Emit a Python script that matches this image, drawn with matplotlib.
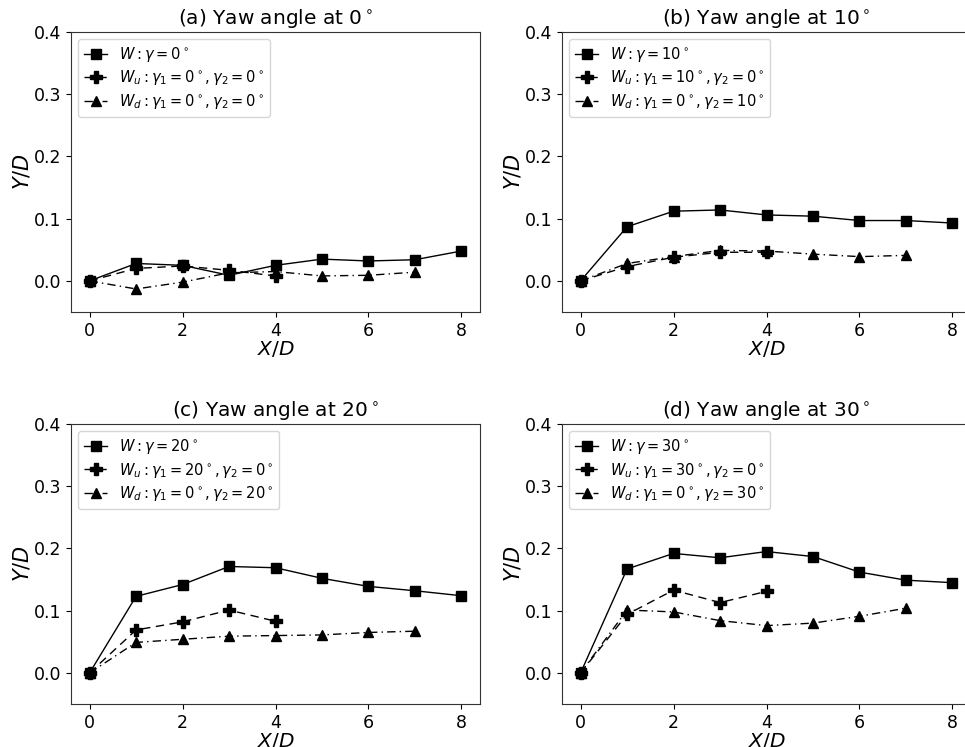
import matplotlib
matplotlib.use("Agg")
import matplotlib.pyplot as plt

x_all = [0, 1, 2, 3, 4, 5, 6, 7, 8]
x_u = [0, 1, 2, 3, 4]
x_d = [0, 1, 2, 3, 4, 5, 6, 7]

angles = [0, 10, 20, 30]
panel_letters = ["a", "b", "c", "d"]

W_0 = [0.0, 0.028, 0.025, 0.009, 0.025, 0.035, 0.032, 0.034, 0.048]
Wu_0 = [0.0, 0.020, 0.024, 0.017, 0.008]
Wd_0 = [0.0, -0.013, -0.002, 0.013, 0.015, 0.008, 0.009, 0.014]

W_10 = [0.0, 0.087, 0.112, 0.114, 0.106, 0.104, 0.097, 0.097, 0.093]
Wu_10 = [0.0, 0.023, 0.038, 0.046, 0.046]
Wd_10 = [0.0, 0.028, 0.039, 0.049, 0.048, 0.043, 0.039, 0.041]

W_20 = [0.0, 0.123, 0.142, 0.171, 0.169, 0.152, 0.139, 0.132, 0.124]
Wu_20 = [0.0, 0.069, 0.082, 0.101, 0.083]
Wd_20 = [0.0, 0.049, 0.054, 0.059, 0.060, 0.061, 0.065, 0.067]

W_30 = [0.0, 0.167, 0.192, 0.185, 0.195, 0.187, 0.162, 0.149, 0.145]
Wu_30 = [0.0, 0.094, 0.133, 0.113, 0.131]
Wd_30 = [0.0, 0.101, 0.098, 0.084, 0.076, 0.080, 0.091, 0.104]

W_series = [W_0, W_10, W_20, W_30]
Wu_series = [Wu_0, Wu_10, Wu_20, Wu_30]
Wd_series = [Wd_0, Wd_10, Wd_20, Wd_30]

fig = plt.figure(figsize=(9.65, 7.47), dpi=100)
W_px, H_px = 965, 747
positions = [(71, 32), (562, 32), (71, 424), (562, 424)]
aw, ah = 409, 280

for i in range(4):
    lx, ty = positions[i]
    ax = fig.add_axes([lx / W_px, 1 - (ty + ah) / H_px, aw / W_px, ah / H_px])
    g = angles[i]
    ax.plot(x_all, W_series[i], color="black", linestyle="-", marker="s",
            markersize=7, linewidth=1.0, label=r"$W: \gamma = %d^\circ$" % g)
    ax.plot(x_u, Wu_series[i], color="black", linestyle="--", marker="P",
            markersize=8, linewidth=1.0, dashes=(6, 4),
            label=r"$W_u: \gamma_1 = %d^\circ, \gamma_2 = 0^\circ$" % g)
    ax.plot(x_d, Wd_series[i], color="black", linestyle="-.", marker="^",
            markersize=7, linewidth=1.0, dashes=(6, 3, 1, 3),
            label=r"$W_d: \gamma_1 = 0^\circ, \gamma_2 = %d^\circ$" % g)
    ax.set_xlim(-0.4, 8.4)
    ax.set_ylim(-0.05, 0.4)
    ax.set_xticks([0, 2, 4, 6, 8])
    ax.set_yticks([0.0, 0.1, 0.2, 0.3, 0.4])
    ax.tick_params(labelsize=12.5)
    ax.set_title(r"(%s) Yaw angle at %d$^\circ$" % (panel_letters[i], g), fontsize=14.5)
    ax.set_xlabel(r"$X/D$", fontsize=14.5, labelpad=-0.5)
    ax.set_ylabel(r"$Y/D$", fontsize=15, labelpad=1)
    ax.legend(loc="upper left", fontsize=10.5, handlelength=1.6, borderpad=0.4,
              labelspacing=0.3, handletextpad=0.8)
    for s in ax.spines.values():
        s.set_color("#333333")

fig.savefig("out.png", dpi=100)
